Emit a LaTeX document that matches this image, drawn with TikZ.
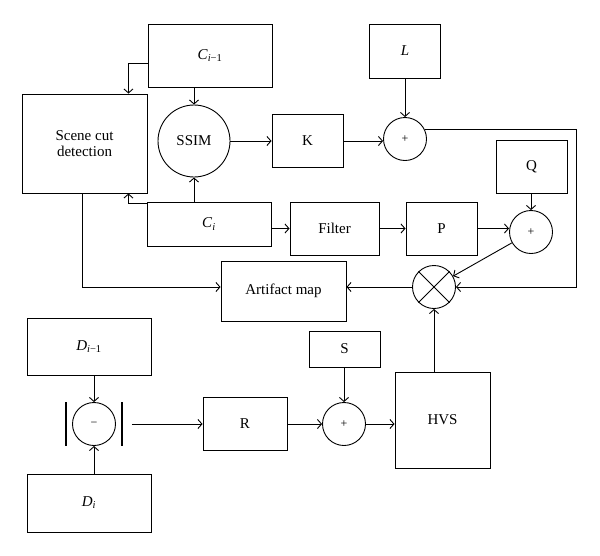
\documentclass[tikz,border=0pt]{standalone}
\usepackage{fontspec}
\setmainfont{Liberation Serif}
\usepackage{tikz}
\usetikzlibrary{arrows.meta,positioning,calc}
\newcommand{\BlockNode}[5]{%
  \path (#2) node (#1) [blk, minimum width=#3pt, minimum height=#4pt] {#5};
}
\newcommand{\SumNode}[3]{%
  \path (#2) node (#1) [sumop] {\fontsize{12}{13}\selectfont #3};
}
\tikzset{
  blk/.style={draw, line width=0.9pt, inner sep=0pt, align=center},
  sumop/.style={draw, circle, line width=0.9pt, inner sep=0pt, minimum size=43pt},
  link/.style={line width=0.9pt, -{Straight Barb[length=4pt,width=9pt]}},
  absbar/.style={line width=2.6pt},
}

\begin{document}
\begin{tikzpicture}[x=1pt,y=-1pt,font=\fontsize{15}{16}\selectfont]
  \useasboundingbox (0,0) rectangle (600,555);
  % colour frames
  \BlockNode{cprev}{210,55.5}{124}{63}{\textit{C}\textsubscript{\textit{i}−1}}
  \BlockNode{scd}{84.5,143.5}{125}{99}{Scene cut\\detection}
  \path (194,141) node (ssim) [sumop, minimum size=72pt] {SSIM};
  \BlockNode{kk}{307.5,141}{71}{53}{K}
  \BlockNode{ll}{405,51}{71}{54}{\textit{L}}
  \SumNode{plusk}{405,139}{+}
  \BlockNode{ci}{209,224}{124}{44}{\textit{C}\textsubscript{\textit{i}}}
  \BlockNode{filt}{334.5,228.5}{89}{53}{Filter}
  \BlockNode{pp}{441.5,228.5}{71}{53}{P}
  \BlockNode{qq}{531.5,166.5}{71}{53}{Q}
  \SumNode{plusq}{531,232}{+}
  \BlockNode{art}{283.5,291}{125}{60}{Artifact map}
  \SumNode{mult}{434,287}{}
  \draw[line width=0.9pt] (mult.north west) -- (mult.south east)
                          (mult.north east) -- (mult.south west);
  % depth frames
  \BlockNode{dprev}{89,346.5}{124}{57}{\textit{D}\textsubscript{\textit{i}−1}}
  \BlockNode{di}{89,503}{124}{58}{\textit{D}\textsubscript{\textit{i}}}
  \SumNode{diff}{94,424}{−}
  \draw[absbar] ($(diff)+(-28,-22)$) -- ++(0,44);
  \draw[absbar] ($(diff)+(28,-22)$) -- ++(0,44);
  \coordinate (absout) at ($(diff.east)+(16,0)$);
  \BlockNode{rr}{245,424}{84}{53}{R}
  \BlockNode{ss}{344.5,349}{71}{36}{S}
  \SumNode{pluss}{344,424}{+}
  \BlockNode{hvs}{442.5,420}{95}{96}{HVS}
  \coordinate (fbcorner) at (576,287);

  \draw[link] ($(cprev.west)+(0,7.5)$) -| ($(scd.north east)+(-19,0)$);
  \draw[link] (cprev.south -| ssim) -- (ssim.north);
  \draw[link] (ci.north -| ssim) -- (ssim.south);
  \draw[link] ($(ci.north west)+(0,2)$) -| ($(scd.south east)+(-19,0)$);
  \draw[link] (ssim.east) -- (kk.west);
  \draw[link] (kk.east) -- (kk.east -| plusk.west);
  \draw[link] (ll.south) -- (plusk.north);
  \draw[link] (plusk.25) -| (fbcorner) -- (mult.east);
  \draw[link] (ci.east |- filt) -- (filt.west);
  \draw[link] (filt.east) -- (filt.east -| pp.west);
  \draw[link] (pp.east) -- (pp.east -| plusq.west);
  \draw[link] (qq.south -| plusq) -- (plusq.north);
  \draw[link] (plusq) -- (mult);
  \draw[link] (mult.west) -- (mult.west -| art.east);
  \draw[link] ($(scd.south)+(-2.5,0)$) |- (art.west |- mult);
  \draw[link] (dprev.south -| diff) -- (diff.north);
  \draw[link] (di.north -| diff) -- (diff.south);
  \draw[link] (absout) -- (absout -| rr.west);
  \draw[link] (rr.east) -- (pluss.west);
  \draw[link] (ss.south -| pluss) -- (pluss.north);
  \draw[link] (pluss.east) -- (pluss.east -| hvs.west);
  \draw[link] (hvs.north -| mult) -- (mult.south);
\end{tikzpicture}
\end{document}
